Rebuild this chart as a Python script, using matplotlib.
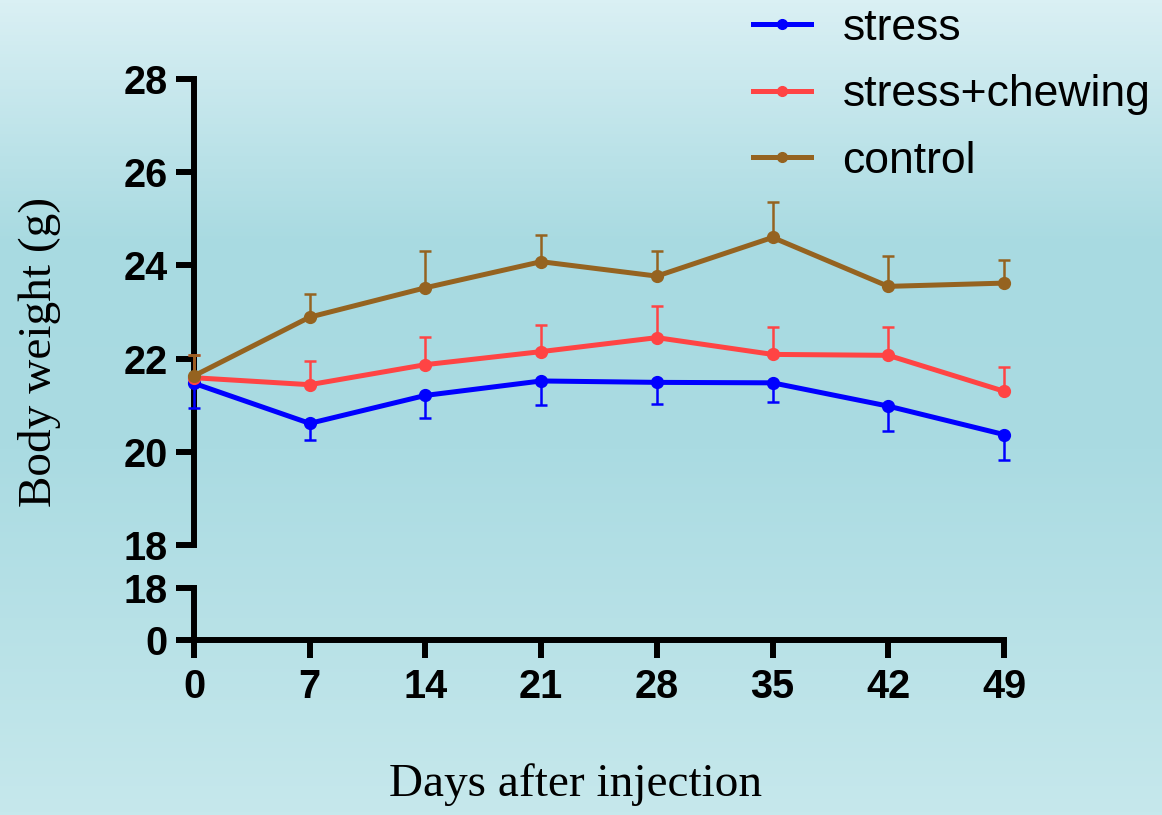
import numpy as np
import matplotlib.pyplot as plt
from matplotlib.colors import LinearSegmentedColormap

days = [0, 7, 14, 21, 28, 35, 42, 49]

stress = [21.47, 20.61, 21.21, 21.52, 21.49, 21.48, 20.98, 20.37]
stress_err = [0.54, 0.36, 0.48, 0.52, 0.46, 0.42, 0.54, 0.55]

chewing = [21.59, 21.44, 21.87, 22.15, 22.45, 22.09, 22.07, 21.30]
chewing_err = [0.48, 0.50, 0.59, 0.58, 0.67, 0.59, 0.60, 0.51]

control = [21.63, 22.89, 23.52, 24.08, 23.77, 24.60, 23.55, 23.62]
control_err = [0.45, 0.50, 0.79, 0.57, 0.53, 0.77, 0.65, 0.49]

upper_ticks = [18, 20, 22, 24, 26, 28]
lower_ticks = [0, 18]

c_stress = '#0000ff'
c_chew = '#ff4444'
c_ctrl = '#956320'

W, H = 1162, 815
fig = plt.figure(figsize=(W / 100, H / 100), dpi=100)

# background gradient
bg = fig.add_axes([0, 0, 1, 1], zorder=-10)
cmap = LinearSegmentedColormap.from_list('bg', [
    (0.0, (218 / 255, 240 / 255, 244 / 255)),
    (0.3, (168 / 255, 218 / 255, 225 / 255)),
    (0.55, (170 / 255, 219 / 255, 226 / 255)),
    (1.0, (198 / 255, 232 / 255, 236 / 255))])
bg.imshow(np.linspace(0, 1, 256).reshape(-1, 1), aspect='auto', cmap=cmap,
          extent=[0, 1, 0, 1])
bg.axis('off')

x0, x1 = 194 / W, 1004 / W
ax = fig.add_axes([x0, 1 - 545 / H, x1 - x0, (545 - 79) / H])
ax2 = fig.add_axes([x0, 1 - 640 / H, x1 - x0, (640 - 588) / H])

lw_sp = 4.3
tickfont = dict(family='Liberation Sans', weight='bold', size=28.5)

for a in (ax, ax2):
    a.set_facecolor('none')
    a.set_xlim(0, 49)
    for s in ('top', 'right'):
        a.spines[s].set_visible(False)
    a.spines['left'].set_linewidth(lw_sp)
    a.spines['bottom'].set_linewidth(lw_sp)
    a.tick_params(width=lw_sp, length=13, direction='out', pad=6)

ax.spines['bottom'].set_visible(False)
ax.set_xticks([])
ax.set_ylim(18, 28)
ax.set_yticks(upper_ticks)
ax.set_yticklabels([str(t) for t in upper_ticks], **tickfont)

ax2.set_ylim(0, 18)
ax2.set_yticks(lower_ticks)
ax2.set_yticklabels([str(t) for t in lower_ticks], **tickfont)
ax2.set_xticks(days)
ax2.set_xticklabels([str(d) for d in days], **tickfont)
ax2.tick_params(axis='x', pad=7)

series = [
    (stress, stress_err, c_stress, 'stress', 'down'),
    (chewing, chewing_err, c_chew, 'stress+chewing', 'up'),
    (control, control_err, c_ctrl, 'control', 'up'),
]
for i, (vals, err, col, lab, side) in enumerate(series):
    zero = [0] * len(err)
    yerr = [err, zero] if side == 'down' else [zero, err]
    ax.errorbar(days, vals, yerr=yerr, color=col, lw=3.6, marker='o',
                ms=8.5, capsize=4.5, elinewidth=1.8, capthick=1.8,
                clip_on=False, zorder=3 + i)
    ax.plot([], [], color=col, lw=3.6, marker='o', ms=7, label=lab)

fig.legend(loc='upper left', bbox_to_anchor=(735 / W, 1.012), frameon=False,
           prop=dict(family='Liberation Sans', size=32), handlelength=1.3,
           handletextpad=0.72, labelspacing=0.57, borderaxespad=0)

fig.text(40 / W, 1 - 352 / H, 'Body weight (g)', rotation=90, ha='center',
         va='center', family='Liberation Serif', size=34)
fig.text(576 / W, 1 - 785 / H, 'Days after injection', ha='center',
         va='center', family='Liberation Serif', size=34)

fig.savefig('out.png', dpi=100)
